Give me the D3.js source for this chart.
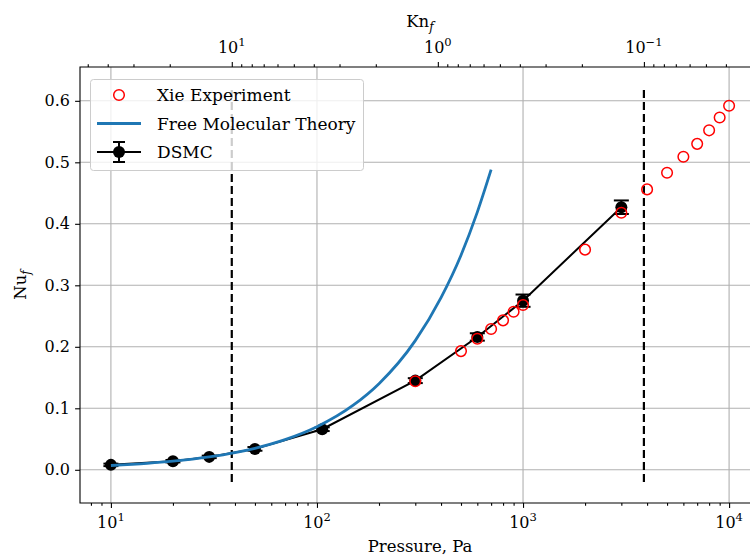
<!DOCTYPE html>
<html>
<head>
<meta charset="utf-8">
<script src="https://cdn.jsdelivr.net/npm/d3@7/dist/d3.min.js"></script>
<style>
  body { margin: 0; background: #fff; }
  svg { display: block; font-family: "DejaVu Serif", serif; }
</style>
</head>
<body>
<svg id="chart"></svg>
<script>
// Xie experiment (pressure in Pa, Nusselt number)
var xiePressure = [300, 500, 600, 700, 800, 900, 1000, 2000, 3000, 4000, 5000, 6000, 7000, 8000, 9000, 10000];
var xieNu = [0.144, 0.193, 0.213, 0.229, 0.243, 0.257, 0.268, 0.358, 0.418, 0.456, 0.483, 0.509, 0.530, 0.552, 0.573, 0.592];

// DSMC results with error
var dsmcPressure = [10, 20, 30, 50, 106, 300, 600, 1000, 3000];
var dsmcNu = [0.008, 0.014, 0.021, 0.034, 0.066, 0.145, 0.216, 0.275, 0.427];
var dsmcErr = [0.002, 0.002, 0.002, 0.003, 0.003, 0.004, 0.006, 0.010, 0.011];

// free molecular theory curve
var fmPressure = [10, 15, 20, 30, 40, 50, 70, 100, 150, 200, 300, 400, 500, 600, 700];
var fmNu = [0.007, 0.0105, 0.014, 0.021, 0.028, 0.035, 0.049, 0.070, 0.105, 0.140, 0.210, 0.280, 0.349, 0.419, 0.488];

// regime boundaries (Knudsen number)
var regimeKn = [10, 0.1];

var pressureTicks = [10, 100, 1000, 10000];
var knTicks = [10, 1, 0.1];
var nuTicks = [0, 0.1, 0.2, 0.3, 0.4, 0.5, 0.6];

var knTimesP = 386; // Kn = knTimesP / pressure

var width = 750, height = 556;
var mLeft = 80, mRight = 760, mTop = 67, mBottom = 503;

var svg = d3.select("#chart").attr("width", width).attr("height", height);

var x = d3.scaleLog().domain([Math.pow(10, 0.85), Math.pow(10, 4.15)]).range([mLeft, mRight]);
var xKn = d3.scaleLog().domain([knTimesP / Math.pow(10, 0.85), knTimesP / Math.pow(10, 4.15)]).range([mLeft, mRight]);
var y = d3.scaleLinear().domain([-0.054, 0.655]).range([mBottom, mTop]);

// minor ticks for a log scale
function minorTicks(scale) {
    var d = scale.domain(), lo = Math.min(d[0], d[1]), hi = Math.max(d[0], d[1]), out = [];
    for (var e = Math.floor(Math.log10(lo)); e <= Math.ceil(Math.log10(hi)); e++) {
        for (var m = 2; m < 10; m++) {
            var v = m * Math.pow(10, e);
            if (v >= lo && v <= hi) out.push(v);
        }
    }
    return out;
}

// grid
var grid = svg.append("g").attr("stroke", "#b0b0b0").attr("stroke-width", 1.1);
grid.selectAll(".gx").data(pressureTicks).enter().append("line")
    .attr("x1", d => x(d)).attr("x2", d => x(d)).attr("y1", mTop).attr("y2", mBottom);
grid.selectAll(".gy").data(nuTicks).enter().append("line")
    .attr("x1", mLeft).attr("x2", mRight).attr("y1", d => y(d)).attr("y2", d => y(d));

// axes
function styleAxis(g) {
    g.select(".domain").remove();
    g.selectAll("line").attr("stroke", "#000").attr("stroke-width", 1.1);
}
svg.append("g").attr("transform", "translate(0," + mBottom + ")")
    .call(d3.axisBottom(x).tickValues(pressureTicks).tickSize(4.9).tickFormat(""))
    .call(styleAxis);
svg.append("g").attr("transform", "translate(0," + mBottom + ")")
    .call(d3.axisBottom(x).tickValues(minorTicks(x)).tickSize(2.8).tickFormat(""))
    .call(styleAxis);
svg.append("g").attr("transform", "translate(0," + mTop + ")")
    .call(d3.axisTop(xKn).tickValues(knTicks).tickSize(4.9).tickFormat(""))
    .call(styleAxis);
svg.append("g").attr("transform", "translate(0," + mTop + ")")
    .call(d3.axisTop(xKn).tickValues(minorTicks(xKn)).tickSize(2.8).tickFormat(""))
    .call(styleAxis);
svg.append("g").attr("transform", "translate(" + mLeft + ",0)")
    .call(d3.axisLeft(y).tickValues(nuTicks).tickSize(4.9).tickFormat(""))
    .call(styleAxis);

// tick labels
function powLabel(sel, v) {
    var e = Math.round(Math.log10(v));
    sel.append("tspan").text("10");
    sel.append("tspan").attr("font-size", 11.5).attr("dy", -7).text(e < 0 ? "\u2212" + (-e) : e);
}
svg.selectAll(".xl").data(pressureTicks).enter().append("text")
    .attr("x", d => x(d)).attr("y", 528).attr("text-anchor", "middle")
    .attr("font-size", 16).each(function(d) { powLabel(d3.select(this), d); });
svg.selectAll(".kl").data(knTicks).enter().append("text")
    .attr("x", d => xKn(d)).attr("y", 53).attr("text-anchor", "middle")
    .attr("font-size", 16).each(function(d) { powLabel(d3.select(this), d); });
svg.selectAll(".yl").data(nuTicks).enter().append("text")
    .attr("x", 70).attr("y", d => y(d)).attr("dy", "0.35em").attr("text-anchor", "end")
    .attr("font-size", 16).text(d => d.toFixed(1));

// axis titles
svg.append("text").attr("x", (mLeft + mRight) / 2).attr("y", 552).attr("text-anchor", "middle")
    .attr("font-size", 16.5).text("Pressure, Pa");
var kt = svg.append("text").attr("x", (mLeft + mRight) / 2).attr("y", 27).attr("text-anchor", "middle").attr("font-size", 16.5);
kt.append("tspan").text("Kn");
kt.append("tspan").attr("font-size", 12).attr("font-style", "italic").attr("dy", 4).text("f");
var nt = svg.append("text").attr("transform", "translate(26," + (mTop + mBottom) / 2 + ") rotate(-90)")
    .attr("text-anchor", "middle").attr("font-size", 16.5);
nt.append("tspan").text("Nu");
nt.append("tspan").attr("font-size", 12).attr("font-style", "italic").attr("dy", 4).text("f");

// regime boundary lines
svg.selectAll(".vl").data(regimeKn).enter().append("line")
    .attr("x1", d => xKn(d)).attr("x2", d => xKn(d))
    .attr("y1", y(-0.02)).attr("y2", y(0.62))
    .attr("stroke", "#000").attr("stroke-width", 2.2).attr("stroke-dasharray", "8,4");

// DSMC
var dsmc = dsmcPressure.map((p, i) => ({p: p, nu: dsmcNu[i], err: dsmcErr[i]}));
var line = d3.line().x(d => x(d.p)).y(d => y(d.nu));
svg.append("path").datum(dsmc).attr("d", line)
    .attr("fill", "none").attr("stroke", "#000").attr("stroke-width", 2);
var eb = svg.append("g").attr("stroke", "#000").attr("stroke-width", 2);
eb.selectAll(".ev").data(dsmc).enter().append("line")
    .attr("x1", d => x(d.p)).attr("x2", d => x(d.p))
    .attr("y1", d => y(d.nu - d.err)).attr("y2", d => y(d.nu + d.err));
eb.selectAll(".ct").data(dsmc).enter().append("line")
    .attr("x1", d => x(d.p) - 7.5).attr("x2", d => x(d.p) + 7.5)
    .attr("y1", d => y(d.nu + d.err)).attr("y2", d => y(d.nu + d.err));
eb.selectAll(".cb").data(dsmc).enter().append("line")
    .attr("x1", d => x(d.p) - 7.5).attr("x2", d => x(d.p) + 7.5)
    .attr("y1", d => y(d.nu - d.err)).attr("y2", d => y(d.nu - d.err));
svg.selectAll(".dd").data(dsmc).enter().append("circle")
    .attr("cx", d => x(d.p)).attr("cy", d => y(d.nu)).attr("r", 6).attr("fill", "#000");

// free molecular theory
var fm = fmPressure.map((p, i) => ({p: p, nu: fmNu[i]}));
svg.append("path").datum(fm)
    .attr("d", d3.line().x(d => x(d.p)).y(d => y(d.nu)).curve(d3.curveMonotoneX))
    .attr("fill", "none").attr("stroke", "#1f77b4").attr("stroke-width", 2.8);

// Xie experiment
svg.selectAll(".xe").data(xiePressure).enter().append("circle")
    .attr("cx", d => x(d)).attr("cy", (d, i) => y(xieNu[i])).attr("r", 5.3)
    .attr("fill", "none").attr("stroke", "#ff0000").attr("stroke-width", 1.5);

// spines
svg.append("path")
    .attr("d", "M" + mRight + "," + mTop + "H" + mLeft + "V" + mBottom + "H" + mRight)
    .attr("fill", "none").attr("stroke", "#000").attr("stroke-width", 1.1);

// legend
var lg = svg.append("g");
lg.append("rect").attr("x", 90.5).attr("y", 79.5).attr("width", 273).attr("height", 91).attr("rx", 3)
    .attr("fill", "#fff").attr("fill-opacity", 0.8).attr("stroke", "#cccccc").attr("stroke-width", 1);
var rows = [95, 123.5, 152];
lg.append("circle").attr("cx", 119).attr("cy", rows[0]).attr("r", 5.3)
    .attr("fill", "none").attr("stroke", "#ff0000").attr("stroke-width", 1.5);
lg.append("line").attr("x1", 97).attr("x2", 141).attr("y1", rows[1]).attr("y2", rows[1])
    .attr("stroke", "#1f77b4").attr("stroke-width", 2.8);
lg.append("line").attr("x1", 97).attr("x2", 141).attr("y1", rows[2]).attr("y2", rows[2])
    .attr("stroke", "#000").attr("stroke-width", 2);
lg.append("line").attr("x1", 119).attr("x2", 119).attr("y1", rows[2] - 10).attr("y2", rows[2] + 10)
    .attr("stroke", "#000").attr("stroke-width", 2);
lg.append("line").attr("x1", 113).attr("x2", 125).attr("y1", rows[2] - 10).attr("y2", rows[2] - 10)
    .attr("stroke", "#000").attr("stroke-width", 2);
lg.append("line").attr("x1", 113).attr("x2", 125).attr("y1", rows[2] + 10).attr("y2", rows[2] + 10)
    .attr("stroke", "#000").attr("stroke-width", 2);
lg.append("circle").attr("cx", 119).attr("cy", rows[2]).attr("r", 6).attr("fill", "#000");
var labels = ["Xie Experiment", "Free Molecular Theory", "DSMC"];
lg.selectAll(".lt").data(labels).enter().append("text")
    .attr("x", 157).attr("y", (d, i) => rows[i]).attr("dy", "0.36em")
    .attr("font-size", 17).text(d => d);
</script>
</body>
</html>
